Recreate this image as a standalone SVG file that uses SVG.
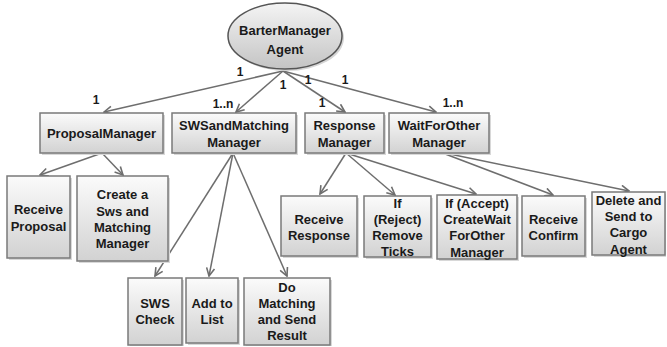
<svg xmlns="http://www.w3.org/2000/svg" width="667" height="347" viewBox="0 0 667 347">
<defs>
<linearGradient id="boxg" x1="0" y1="0" x2="0" y2="1">
<stop offset="0" stop-color="#fbfbfb"/>
<stop offset="1" stop-color="#d2d2d2"/>
</linearGradient>
<linearGradient id="ellg" x1="0" y1="0" x2="0" y2="1">
<stop offset="0" stop-color="#f4f4f4"/>
<stop offset="1" stop-color="#c4c4c4"/>
</linearGradient>
<marker id="arr" viewBox="0 0 10 10" refX="9" refY="5" markerWidth="10" markerHeight="10" markerUnits="userSpaceOnUse" orient="auto">
<path d="M1,1 L9,5 L1,9" fill="none" stroke="#6e6e6e" stroke-width="1.6"/>
</marker>
</defs>
<style>
.box{fill:url(#boxg);stroke:#7a7a7a;stroke-width:1.5}
.sh{fill:#d8d8d8;stroke:none}
.t{font-family:"Liberation Sans",Arial,sans-serif;font-weight:bold;font-size:13px;fill:#1a1a1a;text-anchor:middle}
.lbl{font-family:"Liberation Sans",Arial,sans-serif;font-weight:bold;font-size:12px;fill:#1a1a1a;text-anchor:middle}
.e{stroke:#6e6e6e;stroke-width:1.5;fill:none;marker-end:url(#arr)}
</style>
<rect width="667" height="347" fill="#ffffff"/>

<g id="connectors">
<line class="e" x1="283" y1="71" x2="104" y2="112"/>
<line class="e" x1="283" y1="71" x2="236" y2="112"/>
<line class="e" x1="283" y1="71" x2="345" y2="112"/>
<line class="e" x1="283" y1="71" x2="436" y2="112"/>
<line class="e" x1="102" y1="153" x2="40" y2="175"/>
<line class="e" x1="102" y1="153" x2="123" y2="175"/>
<line class="e" x1="233" y1="153" x2="155" y2="276"/>
<line class="e" x1="233" y1="153" x2="209" y2="276"/>
<line class="e" x1="233" y1="153" x2="287" y2="276"/>
<line class="e" x1="346" y1="153" x2="320" y2="194"/>
<line class="e" x1="346" y1="153" x2="395" y2="195"/>
<line class="e" x1="346" y1="153" x2="476" y2="194"/>
<line class="e" x1="440" y1="152" x2="553" y2="195"/>
<line class="e" x1="440" y1="152" x2="629" y2="191"/>
<text class="lbl" x="240" y="76">1</text>
<text class="lbl" x="96" y="104">1</text>
<text class="lbl" x="283" y="89">1</text>
<text class="lbl" x="223" y="108">1..n</text>
<text class="lbl" x="308" y="84">1</text>
<text class="lbl" x="322" y="107">1</text>
<text class="lbl" x="345" y="84">1</text>
<text class="lbl" x="453" y="107">1..n</text>
</g>

<g id="agent">
<ellipse cx="287" cy="38" rx="57" ry="33" fill="#d5d5d5"/>
<ellipse cx="285" cy="36" rx="57" ry="33" fill="url(#ellg)" stroke="#555" stroke-width="1.5"/>
<text class="t" x="285" y="35">BarterManager</text>
<text class="t" x="285" y="54">Agent</text>
</g>

<g id="proposalManager">
<rect class="sh" x="42" y="115" width="123" height="40"/>
<rect class="box" x="40" y="113" width="123" height="40"/>
<text class="t" x="101.5" y="138">ProposalManager</text>
</g>
<g id="swsMatchingManager">
<rect class="sh" x="174" y="115" width="124" height="40"/>
<rect class="box" x="172" y="113" width="124" height="40"/>
<text class="t" x="234" y="130">SWSandMatching</text>
<text class="t" x="234" y="147">Manager</text>
</g>
<g id="responseManager">
<rect class="sh" x="307" y="115" width="79" height="40"/>
<rect class="box" x="305" y="113" width="79" height="40"/>
<text class="t" x="344.5" y="130">Response</text>
<text class="t" x="344.5" y="147">Manager</text>
</g>
<g id="waitForOtherManager">
<rect class="sh" x="391" y="115" width="100" height="40"/>
<rect class="box" x="389" y="113" width="100" height="40"/>
<text class="t" x="439" y="130">WaitForOther</text>
<text class="t" x="439" y="147">Manager</text>
</g>

<g id="receiveProposal">
<rect class="sh" x="9" y="178" width="63" height="82"/>
<rect class="box" x="7" y="176" width="63" height="82"/>
<text class="t" x="38.5" y="214">Receive</text>
<text class="t" x="38.5" y="231">Proposal</text>
</g>
<g id="createSws">
<rect class="sh" x="79" y="178" width="91" height="85"/>
<rect class="box" x="77" y="176" width="91" height="85"/>
<text class="t" x="122.5" y="199">Create a</text>
<text class="t" x="122.5" y="216">Sws and</text>
<text class="t" x="122.5" y="232">Matching</text>
<text class="t" x="122.5" y="248">Manager</text>
</g>
<g id="swsCheck">
<rect class="sh" x="130" y="280" width="54" height="66"/>
<rect class="box" x="128" y="278" width="54" height="67"/>
<text class="t" x="155" y="308">SWS</text>
<text class="t" x="155" y="324">Check</text>
</g>
<g id="addToList">
<rect class="sh" x="188" y="280" width="52" height="65"/>
<rect class="box" x="186" y="278" width="52" height="65"/>
<text class="t" x="212" y="308">Add to</text>
<text class="t" x="212" y="324">List</text>
</g>
<g id="doMatching">
<rect class="sh" x="246" y="280" width="86" height="66"/>
<rect class="box" x="244" y="278" width="86" height="67"/>
<text class="t" x="287" y="292">Do</text>
<text class="t" x="287" y="308">Matching</text>
<text class="t" x="287" y="324">and Send</text>
<text class="t" x="287" y="340">Result</text>
</g>
<g id="receiveResponse">
<rect class="sh" x="283" y="198" width="76" height="60"/>
<rect class="box" x="281" y="196" width="76" height="60"/>
<text class="t" x="319" y="224">Receive</text>
<text class="t" x="319" y="240">Response</text>
</g>
<g id="ifReject">
<rect class="sh" x="366" y="198" width="67" height="61"/>
<rect class="box" x="364" y="196" width="67" height="61"/>
<text class="t" x="397.5" y="208">If</text>
<text class="t" x="397.5" y="224">(Reject)</text>
<text class="t" x="397.5" y="240">Remove</text>
<text class="t" x="397.5" y="256">Ticks</text>
</g>
<g id="ifAccept">
<rect class="sh" x="439" y="197" width="80" height="64"/>
<rect class="box" x="437" y="195" width="80" height="64"/>
<text class="t" x="477" y="208">If (Accept)</text>
<text class="t" x="477" y="224">CreateWait</text>
<text class="t" x="477" y="240">ForOther</text>
<text class="t" x="477" y="257">Manager</text>
</g>
<g id="receiveConfirm">
<rect class="sh" x="524" y="198" width="63" height="60"/>
<rect class="box" x="522" y="196" width="63" height="60"/>
<text class="t" x="553.5" y="224">Receive</text>
<text class="t" x="553.5" y="240">Confirm</text>
</g>
<g id="deleteSend">
<rect class="sh" x="594" y="194" width="72" height="63"/>
<rect class="box" x="592" y="192" width="73" height="63"/>
<text class="t" x="628.5" y="205">Delete and</text>
<text class="t" x="628.5" y="221">Send to</text>
<text class="t" x="628.5" y="237">Cargo</text>
<text class="t" x="628.5" y="254">Agent</text>
</g>
</svg>
